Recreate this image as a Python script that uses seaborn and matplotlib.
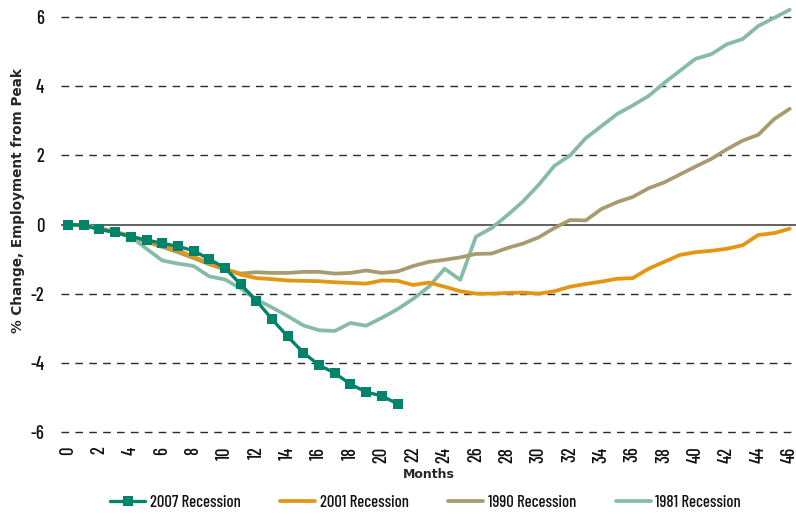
import pandas as pd
import matplotlib
matplotlib.use("Agg")
import matplotlib.pyplot as plt
import seaborn as sns

# data (months after peak, % change)
bulan_2007 = list(range(0, 22))
resesi_2007 = [0, -0.02, -0.14, -0.23, -0.35, -0.45, -0.54, -0.63, -0.76, -1.0, -1.26,
               -1.73, -2.2, -2.74, -3.24, -3.71, -4.07, -4.3, -4.62, -4.85, -4.96, -5.19]

bulan = list(range(0, 47))
resesi_2001 = [0, -0.03, -0.12, -0.22, -0.33, -0.47, -0.6, -0.75, -0.93, -1.12, -1.28,
               -1.45, -1.55, -1.58, -1.62, -1.63, -1.64, -1.67, -1.69, -1.71, -1.62, -1.63,
               -1.75, -1.68, -1.8, -1.93, -2.0, -2.0, -1.98, -1.97, -2.0, -1.93, -1.8,
               -1.72, -1.65, -1.57, -1.55, -1.28, -1.08, -0.88, -0.8, -0.76, -0.7, -0.6,
               -0.3, -0.25, -0.12]
resesi_1990 = [0, -0.03, -0.12, -0.22, -0.35, -0.5, -0.65, -0.8, -0.97, -1.15, -1.3,
               -1.42, -1.38, -1.4, -1.4, -1.37, -1.37, -1.42, -1.4, -1.33, -1.4, -1.36,
               -1.2, -1.08, -1.02, -0.95, -0.85, -0.84, -0.68, -0.55, -0.37, -0.1, 0.13,
               0.12, 0.45, 0.65, 0.8, 1.05, 1.22, 1.45, 1.68, 1.9, 2.18, 2.43, 2.6,
               3.05, 3.35]
resesi_1981 = [0, -0.02, -0.1, -0.2, -0.35, -0.7, -1.04, -1.13, -1.2, -1.5, -1.59,
               -1.85, -2.17, -2.4, -2.65, -2.92, -3.06, -3.08, -2.85, -2.93, -2.7, -2.45,
               -2.15, -1.8, -1.28, -1.6, -0.35, -0.1, 0.27, 0.67, 1.15, 1.7, 2.0, 2.5,
               2.85, 3.2, 3.45, 3.72, 4.1, 4.45, 4.8, 4.93, 5.22, 5.37, 5.75, 5.98, 6.22]

nama_seri = ['2007 Recession', '2001 Recession', '1990 Recession', '1981 Recession']
warna = ['#00836b', '#e29612', '#a99b70', '#86bba8']

sns.set_theme(style='white')
plt.rcParams['font.family'] = ['Barlow Condensed', 'DejaVu Sans']
plt.rcParams['font.weight'] = 'medium'
plt.rcParams['axes.unicode_minus'] = False
plt.rcParams['text.color'] = '#111111'
plt.rcParams['xtick.color'] = '#111111'
plt.rcParams['ytick.color'] = '#111111'

fig = plt.figure(figsize=(7.96, 5.15), dpi=100)
ax = fig.add_axes([61 / 796, 1 - 437 / 515, 735 / 796, 437 / 515])

# garis grid putus-putus
for y in [-6, -4, -2, 2, 4, 6]:
    ax.axhline(y, color='#2a2a2a', lw=1.0, dashes=(5.5, 4.5), zorder=1)
ax.axhline(0, color='#555555', lw=1.3, zorder=1)

sns.lineplot(x=bulan, y=resesi_1981, ax=ax, color=warna[3], lw=2.7, label=nama_seri[3], zorder=3)
sns.lineplot(x=bulan, y=resesi_1990, ax=ax, color=warna[2], lw=2.7, label=nama_seri[2], zorder=3)
sns.lineplot(x=bulan, y=resesi_2001, ax=ax, color=warna[1], lw=2.7, label=nama_seri[1], zorder=3)
sns.lineplot(x=bulan_2007, y=resesi_2007, ax=ax, color=warna[0], lw=2.4, marker='s',
             markersize=6.5, markeredgewidth=0, label=nama_seri[0], zorder=4)

ax.set_xlim(-0.45, 46.4)
ax.set_ylim(-6.15, 6.5)
ax.set_xticks(range(0, 47, 2))
ax.set_yticks(range(-6, 7, 2))
ax.tick_params(axis='x', labelrotation=90, labelsize=13.5, length=0, pad=7)
ax.tick_params(axis='y', labelsize=13.5, length=0, pad=12)
for s in ax.spines.values():
    s.set_visible(False)

ax.set_xlabel('Months', family='DejaVu Sans', fontsize=9, fontweight='bold', labelpad=3)
ax.set_ylabel('% Change, Employment from Peak', family='DejaVu Sans', fontsize=9.8,
              fontweight='bold')
ax.yaxis.set_label_coords(-36 / 735, 0.54)

handles, labels = ax.get_legend_handles_labels()
urut = [labels.index(n) for n in nama_seri]
ax.legend([handles[i] for i in urut], [labels[i] for i in urut], ncol=4, frameon=False,
          loc='center', bbox_to_anchor=(0.496, -0.149), fontsize=12, handlelength=2.1,
          columnspacing=2.4, handletextpad=0.25, borderpad=0)

plt.savefig('out.png', dpi=100)
